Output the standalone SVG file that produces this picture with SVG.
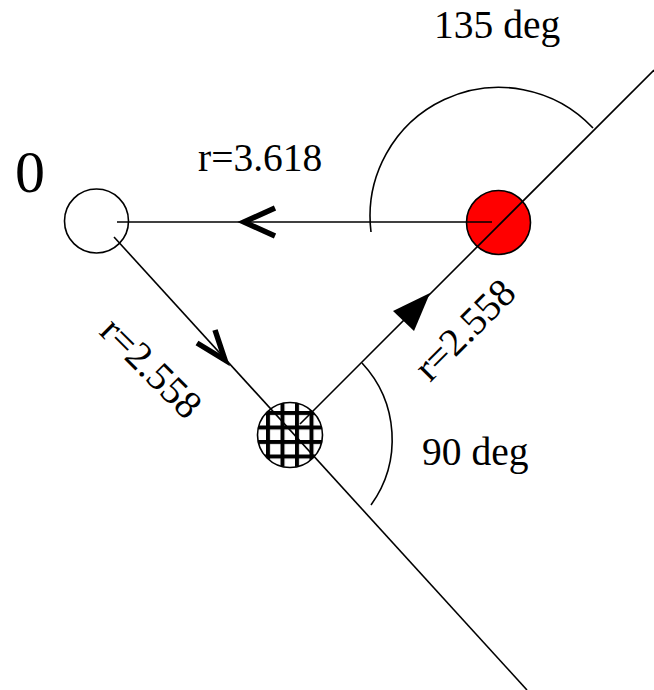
<svg xmlns="http://www.w3.org/2000/svg" width="654" height="690" viewBox="0 0 654 690">
<style>
.ln{fill:none;stroke:#000;stroke-width:1.6}
.node{stroke:#000;stroke-width:1.6}
.chev{fill:none;stroke:#000;stroke-width:5.5;stroke-linejoin:miter;stroke-miterlimit:10}
.t{font-family:"Liberation Serif","Times New Roman",serif;font-size:39.5px;fill:#000}
</style>
<defs>
<pattern id="grid" patternUnits="userSpaceOnUse" x="266" y="411" width="14.5" height="14.5">
<rect width="14.5" height="14.5" fill="#fff"/>
<rect x="0" y="0" width="4" height="14.5" fill="#000"/>
<rect x="0" y="0" width="14.5" height="4" fill="#000"/>
</pattern>
</defs>
<rect width="654" height="690" fill="#fff"/>
<g id="node-0">
<circle class="node" cx="96.5" cy="221" r="32" fill="#fff"/>
<text class="t" x="15" y="192" style="font-size:60px">0</text>
</g>
<g id="node-red">
<circle class="node" cx="498.5" cy="222.5" r="32" fill="#ff0000"/>
</g>
<g id="node-hatched">
<circle class="node" cx="290" cy="435" r="32.5" fill="url(#grid)"/>
</g>
<g id="connectors">
<line class="ln" x1="117" y1="222" x2="492" y2="222"/>
<polyline class="chev" points="275,208 244,222 275,236"/>
<line class="ln" x1="114" y1="237" x2="527" y2="690"/>
<polyline class="chev" points="197,343 225,360 215,330"/>
<line class="ln" x1="300" y1="424" x2="654" y2="70"/>
<polygon points="430,293 393,311 414,331" fill="#000"/>
<path class="ln" d="M371 232 A129 129 0 0 1 593 128"/>
<path class="ln" d="M362 363 A112 112 0 0 1 371 505"/>
</g>
<g id="labels">
<text class="t" x="434" y="38">135 deg</text>
<text class="t" x="198" y="171">r=3.618</text>
<text class="t" x="422" y="465">90 deg</text>
<text class="t" transform="translate(98 333) rotate(45)">r=2.558</text>
<text class="t" transform="translate(430 383) rotate(-45)">r=2.558</text>
</g>
</svg>
